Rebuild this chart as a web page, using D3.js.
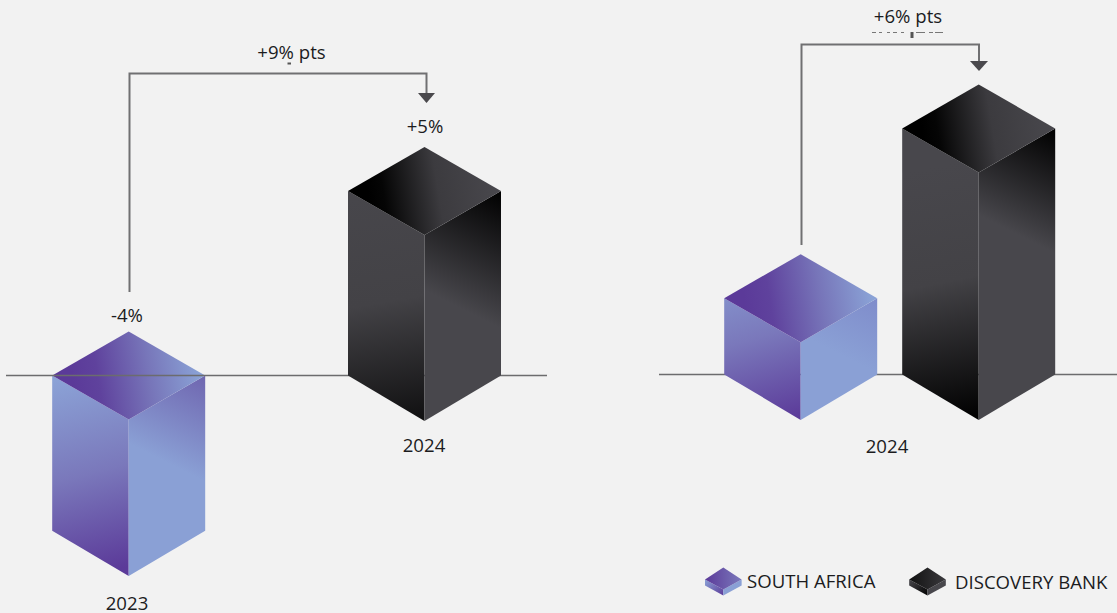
<!DOCTYPE html>
<html>
<head>
<meta charset="utf-8">
<script src="https://cdn.jsdelivr.net/npm/d3@7/dist/d3.min.js"></script>
<style>
html,body{margin:0;padding:0;background:#f2f2f2;}
svg{display:block;}
text{font-family:"Open Sans",sans-serif;fill:#1c1c1e;}
</style>
</head>
<body>
<svg id="chart" width="1117" height="613"></svg>
<script>
// Year-on-year change, left panel
const leftYears = ["2023", "2024"];
const leftValues = [-4, 5];
const leftLabels = ["-4%", "+5%"];
const leftChange = "+9% pts";

// Latest year comparison, right panel
const rightYear = "2024";
const rightSeries = ["SOUTH AFRICA", "DISCOVERY BANK"];
const rightValues = [2.7, 8.7];
const rightChange = "+6% pts";

const legendNames = ["SOUTH AFRICA", "DISCOVERY BANK"];

const svg = d3.select("#chart");
const defs = svg.append("defs");
const W = 153, D = 44, DB = 45.4;   // isometric footprint of a column: top and bottom depth
const FS = 18.6;

const yLeft = d3.scaleLinear().domain([-4, 0, 5]).range([530.7, 375.5, 191]);
const yRight = d3.scaleLinear().domain([0, 8.7]).range([374.5, 128.5]);
const xLeft = d3.scalePoint().domain(leftYears).range([128.7, 424.5]);
const xRight = d3.scalePoint().domain(rightSeries).range([800.7, 978.7]);

const palettes = {
  purple: {
    top: [["0%", "#5b3a99"], ["20%", "#5f429d"], ["60%", "#7775b9"], ["100%", "#8aa2d6"]],
    left: [["0%", "#8ba2d6"], ["50%", "#7a78bb"], ["100%", "#5b3a99"]],
    right: ["#7f8ccb", "#8aa0d5"]
  },
  dark: {
    top: [["0%", "#000000"], ["12%", "#050505"], ["55%", "#3c3b3f"], ["100%", "#48474c"]],
    left: [["0%", "#48474c"], ["45%", "#434246"], ["100%", "#000000"]],
    right: ["#000000", "#48474c"]
  }
};
let gradId = 0;
function gradient(x1, y1, x2, y2, stops) {
  const id = "g" + (gradId++);
  const g = defs.append("linearGradient").attr("id", id)
    .attr("gradientUnits", "userSpaceOnUse")
    .attr("x1", x1).attr("y1", y1).attr("x2", x2).attr("y2", y2);
  stops.forEach(s => g.append("stop").attr("offset", s[0]).attr("stop-color", s[1]));
  return `url(#${id})`;
}
const line = d3.line();

// One isometric column: top edge at yTop, bottom edge at yBot, centred on cx
function column(g, cx, yTop, yBot, pal, opt) {
  const hw = W / 2;
  const lx = cx - hw, rx = cx + hw;
  const topPts = [[cx, yTop - D], [rx, yTop], [cx, yTop + D], [lx, yTop]];
  const leftPts = [[lx, yTop], [cx, yTop + D], [cx, yBot + DB], [lx, yBot]];
  const rightPts = [[rx, yTop], [cx, yTop + D], [cx, yBot + DB], [rx, yBot]];
  const fillL = gradient(cx + opt.lx, yBot + DB - opt.lLen, cx - 8, yBot + DB + opt.lExtra, pal.left);
  const fillR = gradient(rx, yTop, rx - opt.rLen * 0.5, yTop + opt.rLen, [["0%", opt.rStart || pal.right[0]], ["100%", pal.right[1]]]);
  const fillT = gradient(lx + 22, yTop + 14, rx - 6, yTop - 6, pal.top);
  g.append("path").attr("d", line(leftPts) + "Z").attr("fill", fillL);
  g.append("path").attr("d", line(rightPts) + "Z").attr("fill", fillR);
  g.append("path").attr("d", line(topPts) + "Z").attr("fill", fillT);
}

function baseline(x1, x2, y) {
  svg.append("line").attr("x1", x1).attr("x2", x2).attr("y1", y).attr("y2", y)
    .attr("stroke", "#6c6c6e").attr("stroke-width", 1.4);
}

function connector(xa, ya, xb, yTop, yEnd, arrowW) {
  svg.append("path").attr("d", line([[xa, ya], [xa, yTop], [xb, yTop], [xb, yEnd]]))
    .attr("fill", "none").attr("stroke", "#707072").attr("stroke-width", 2);
  svg.append("path")
    .attr("d", line([[xb - arrowW, yEnd], [xb + arrowW, yEnd], [xb, yEnd + 10]]) + "Z")
    .attr("fill", "#4a494d");
}

function label(x, y, s) {
  return svg.append("text").attr("x", x).attr("y", y).attr("text-anchor", "middle")
    .attr("font-size", FS).text(s);
}

// Left panel: the negative column goes first so the zero line crosses its top
column(svg.append("g"), xLeft("2023"), yLeft(0), yLeft(-4), palettes.purple,
  { lx: -58, lLen: 200, lExtra: -8, rLen: 85, rStart: "#6f66b0" });
baseline(6, 547, 375.5);
column(svg.append("g"), xLeft("2024"), yLeft(5), yLeft(0), palettes.dark,
  { lx: -58, lLen: 250, lExtra: 40, rLen: 110 });

// Right panel
baseline(659, 1117, 374.5);
column(svg.append("g"), xRight(rightSeries[0]), yRight(rightValues[0]), yRight(0), palettes.purple,
  { lx: -58, lLen: 170, lExtra: 0, rLen: 60 });
column(svg.append("g"), xRight(rightSeries[1]), yRight(rightValues[1]), yRight(0), palettes.dark,
  { lx: -58, lLen: 250, lExtra: 0, rLen: 100 });

// Change brackets
connector(xLeft("2023") + 0.8, 292, xLeft("2024") + 2, 73.5, 93, 8.5);
connector(xRight(rightSeries[0]) + 0.8, 245, xRight(rightSeries[1]) + 0.3, 44.5, 61, 9);

// Value and change labels
label(127, 322, leftLabels[0]);
label(425, 133, leftLabels[1]);
label(291.5, 59, leftChange);
label(908, 23, rightChange);

// Small ink flecks just above each bracket
svg.append("rect").attr("x", 287.5).attr("y", 62.5).attr("width", 3.5).attr("height", 2).attr("fill", "#555");
const flecks = [[872, 4], [879, 3], [887, 3], [893, 4], [901, 3], [916, 9], [929, 4], [935, 8]];
svg.selectAll("rect.fleck").data(flecks).join("rect").attr("class", "fleck")
  .attr("x", d => d[0]).attr("y", 32).attr("width", d => d[1]).attr("height", 1).attr("fill", "#777");
svg.append("rect").attr("x", 910.5).attr("y", 32).attr("width", 3).attr("height", 6).attr("fill", "#555");

// Year labels
label(127, 609.5, leftYears[0]);
label(424, 452, leftYears[1]);
label(887, 453, rightYear);

// Legend
function legendSwatch(cx, cyTop, pal) {
  const hw = 18.3, d = 10, t = 6;
  const g = svg.append("g");
  g.append("path").attr("d", line([[cx - hw, cyTop], [cx, cyTop + d], [cx, cyTop + d + t], [cx - hw, cyTop + t]]) + "Z")
    .attr("fill", gradient(cx - hw, cyTop, cx, cyTop + d + t, [["0%", pal.left[0][1]], ["100%", pal.left[2][1]]]));
  g.append("path").attr("d", line([[cx + hw, cyTop], [cx, cyTop + d], [cx, cyTop + d + t], [cx + hw, cyTop + t]]) + "Z")
    .attr("fill", pal.right[1]);
  g.append("path").attr("d", line([[cx, cyTop - d - 2], [cx + hw, cyTop], [cx, cyTop + d], [cx - hw, cyTop]]) + "Z")
    .attr("fill", gradient(cx - hw, cyTop, cx + hw, cyTop, pal === palettes.dark
      ? [["0%", "#111"], ["100%", "#3a393d"]]
      : [["0%", "#5b3a99"], ["100%", "#7a78bb"]]));
}
legendSwatch(723.3, 579.5, palettes.purple);
legendSwatch(927.5, 579.5, palettes.dark);
svg.append("text").attr("x", 747).attr("y", 587.5).attr("font-size", FS).text(legendNames[0]);
svg.append("text").attr("x", 955).attr("y", 588.5).attr("font-size", FS).text(legendNames[1]);
</script>
</body>
</html>
